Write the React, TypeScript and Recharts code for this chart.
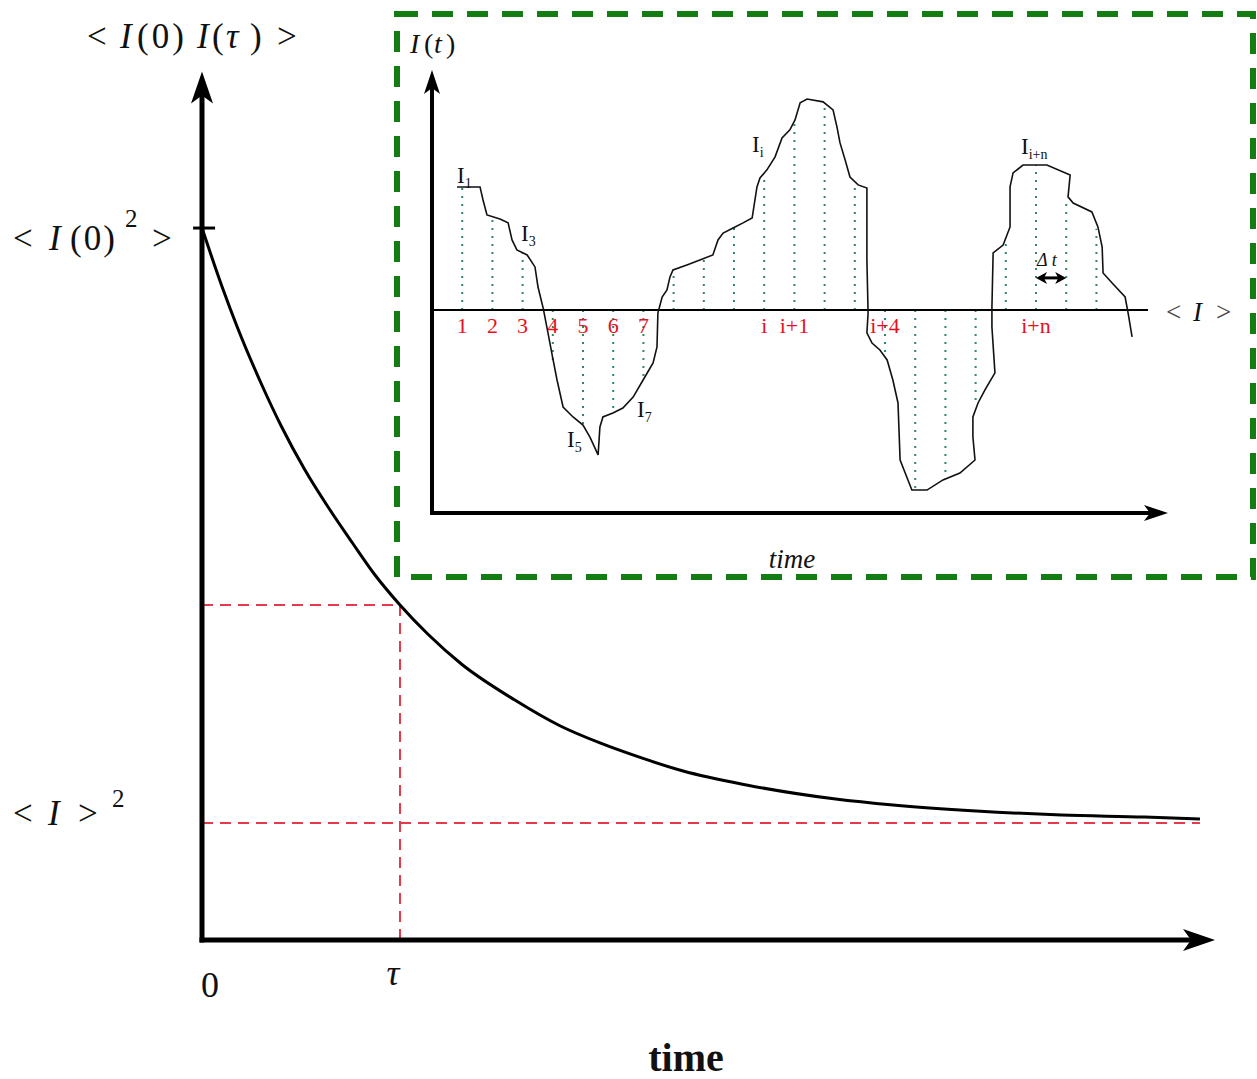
import { ComposedChart, Line, XAxis, YAxis, ReferenceLine, ReferenceDot } from "recharts";

// main plot: correlation <I(0)I(t)> vs lag, time in units of tau, value in units of <I>^2
const corrTime = [0, 0.1, 0.18, 0.3, 0.4, 0.52, 0.64, 0.76, 0.87, 1.0, 1.14, 1.31, 1.58, 1.81, 2.01, 2.22, 2.43, 2.75, 3.2, 3.49, 3.91, 4.34, 4.76, 5.04];
const corrValue = [6.085, 5.59, 5.231, 4.752, 4.393, 4.017, 3.692, 3.393, 3.128, 2.863, 2.615, 2.359, 2.051, 1.829, 1.684, 1.556, 1.444, 1.325, 1.205, 1.154, 1.103, 1.068, 1.051, 1.034];
const TAU = 1;
const CORR_AT_TAU = 2.863;
const CORR_ZERO = 6.085;
const MEAN_SQ = 1;
const MEAN_SQ_END = 5.04;
const X_MAX = 5.116;
const Y_MAX = 7.393;

// inset: intensity trace I(t), time in units of dt
const signalTime = [
  0.83, 1.59, 1.69, 1.82, 2.25, 2.52, 2.65, 2.81, 3.15, 3.41,
  3.51, 3.68, 3.84, 4.01, 4.14, 4.34, 4.67, 5.0, 5.23, 5.5,
  5.56, 5.66, 5.99, 6.32, 6.66, 6.99, 7.32, 7.45, 7.48, 7.62,
  7.78, 7.88, 7.98, 8.44, 8.87, 9.3, 9.47, 9.64, 9.97, 10.3,
  10.6, 10.76, 10.86, 11.09, 11.36, 11.59, 11.85, 12.02, 12.19, 12.42,
  12.95, 13.28, 13.41, 13.51, 13.68, 13.84, 14.11, 14.4, 14.4, 14.44,
  14.4, 14.57, 14.83, 15.07, 15.26, 15.43, 15.5, 15.89, 16.39, 16.92,
  17.48, 17.98, 17.91, 17.91, 18.08, 18.31, 18.64, 18.54, 18.54, 18.58,
  18.91, 19.14, 19.14, 19.24, 19.57, 20.36, 21.13, 21.06, 21.23, 21.85,
  22.05, 22.19, 22.22, 22.52, 22.95, 23.05, 23.18,
];
const signalValue = [
  16.06, 16.06, 15.42, 14.68, 14.48, 14.29, 13.45, 12.96, 12.71, 12.12,
  11.13, 10.1, 8.87, 7.54, 6.55, 5.22, 4.73, 4.33, 3.74, 2.86,
  4.24, 4.73, 4.93, 5.17, 5.71, 6.55, 7.39, 8.18, 9.85, 10.64,
  10.99, 11.63, 11.97, 12.22, 12.46, 12.71, 13.45, 13.79, 14.04, 14.29,
  14.53, 16.06, 16.5, 16.9, 17.54, 18.47, 18.87, 19.36, 20.2, 20.39,
  20.25, 19.85, 19.01, 18.23, 17.39, 16.55, 16.16, 16.01, 12.46, 9.85,
  8.87, 8.37, 8.03, 7.54, 6.55, 5.42, 2.61, 1.13, 1.13, 1.63,
  1.97, 2.61, 3.74, 4.73, 5.42, 6.06, 6.9, 9.16, 10.15, 12.81,
  13.2, 14.09, 16.06, 16.75, 17.14, 17.14, 16.65, 15.57, 15.27, 14.83,
  14.09, 13.1, 11.82, 11.33, 10.64, 9.85, 8.67,
];
const sampleTime = [1, 2, 3, 4, 5, 6, 7, 8, 9, 10, 11, 12, 13, 14, 15, 16, 17, 18, 19, 20, 21, 22];
const sampleValue = [16.06, 14.6, 12.8, 7.54, 4.33, 4.93, 6.55, 12.0, 12.53, 14.06, 16.7, 19.2, 20.2, 16.2, 7.7, 1.13, 1.7, 5.4, 13.4, 17.14, 15.5, 14.0];
const sampleLabel = ["1", "2", "3", "4", "5", "6", "7", "", "", "", "i", "i+1", "", "", "i+4", "", "", "", "", "i+n", "", ""];
const MEAN_I = 10;
const MEAN_END = 23.71;
const DT_FROM = 20;
const DT_TO = 21;
const DT_LEVEL = 11.58;
const T_MAX = 24.37;
const I_MAX = 21.82;

const SERIF = '"Liberation Serif", "DejaVu Serif", serif';
const RED = "#e23b4b";
const GREEN = "#137d13";

const corrData = corrTime.map((t, i) => ({ t, c: corrValue[i] }));
const signalData = signalTime.map((t, i) => ({ t, v: signalValue[i] }));

type HeadOpts = { head: number; half: number; notch: number; both?: boolean };

function headPoints(tx: number, ty: number, ux: number, uy: number, o: HeadOpts) {
  const bx = tx - ux * o.head;
  const by = ty - uy * o.head;
  const nx = tx - ux * (o.head - o.notch);
  const ny = ty - uy * (o.head - o.notch);
  return `${tx},${ty} ${bx - uy * o.half},${by + ux * o.half} ${nx},${ny} ${bx + uy * o.half},${by - ux * o.half}`;
}

function arrowShape(o: HeadOpts) {
  return (p: any) => {
    const { x1, y1, x2, y2, stroke, strokeWidth } = p;
    const len = Math.hypot(x2 - x1, y2 - y1) || 1;
    const ux = (x2 - x1) / len;
    const uy = (y2 - y1) / len;
    const cut = o.head - o.notch;
    const sx = o.both ? x1 + ux * cut : x1;
    const sy = o.both ? y1 + uy * cut : y1;
    return (
      <g>
        <line x1={sx} y1={sy} x2={x2 - ux * cut} y2={y2 - uy * cut} stroke={stroke} strokeWidth={strokeWidth} strokeLinecap="square" />
        <polygon points={headPoints(x2, y2, ux, uy, o)} fill={stroke} />
        {o.both && <polygon points={headPoints(x1, y1, -ux, -uy, o)} fill={stroke} />}
      </g>
    );
  };
}

function MainXTick({ x, y, payload }: any) {
  const isTau = payload.value === TAU;
  return (
    <text
      x={x + (isTau ? -7 : 8)}
      y={y + (isTau ? 37 : 49)}
      textAnchor="middle"
      fontFamily={SERIF}
      fontSize={36}
      fontStyle={isTau ? "italic" : "normal"}
      fill="#111"
    >
      {isTau ? "τ" : "0"}
    </text>
  );
}

function MainYTick({ y, payload }: any) {
  if (payload.value === CORR_ZERO) {
    return (
      <text y={y + 22} fontFamily={SERIF} fontSize={35} fill="#111">
        <tspan x={13}>{"<"}</tspan>
        <tspan x={49} fontStyle="italic">I</tspan>
        <tspan x={70} letterSpacing={2}>(0)</tspan>
        <tspan x={125} dy={-23} fontSize={25}>2</tspan>
        <tspan x={152} dy={23}>{">"}</tspan>
      </text>
    );
  }
  return (
    <text y={y + 2} fontFamily={SERIF} fontSize={35} fill="#111">
      <tspan x={13}>{"<"}</tspan>
      <tspan x={48} fontStyle="italic">I</tspan>
      <tspan x={78}>{">"}</tspan>
      <tspan x={112} dy={-18} fontSize={25}>2</tspan>
    </text>
  );
}

function Sub({ x, y, main, sub }: { x: number; y: number; main: string; sub: string }) {
  return (
    <text x={x} y={y} fontFamily={SERIF} fontSize={23} fill="#111">
      {main}
      <tspan fontSize={14} dy={5}>{sub}</tspan>
    </text>
  );
}

export default function App() {
  return (
    <div style={{ position: "absolute", left: 0, top: 0, width: 1257, height: 1079, background: "#fff" }}>
      <ComposedChart width={1257} height={1079} data={corrData} margin={{ top: 75, right: 42, bottom: 0, left: 0 }}>
        <XAxis
          type="number"
          dataKey="t"
          domain={[0, X_MAX]}
          ticks={[0, TAU]}
          height={139}
          axisLine={false}
          tickLine={false}
          tick={(p: any) => <MainXTick {...p} />}
        />
        <YAxis
          type="number"
          domain={[0, Y_MAX]}
          ticks={[MEAN_SQ, CORR_ZERO]}
          width={202}
          axisLine={false}
          tickLine={false}
          tick={(p: any) => <MainYTick {...p} />}
        />
        <ReferenceLine segment={[{ x: 0, y: CORR_AT_TAU }, { x: TAU, y: CORR_AT_TAU }]} stroke={RED} strokeWidth={2} strokeDasharray="11 7" />
        <ReferenceLine segment={[{ x: TAU, y: 0 }, { x: TAU, y: CORR_AT_TAU }]} stroke={RED} strokeWidth={2} strokeDasharray="11 7" />
        <ReferenceLine segment={[{ x: 0, y: MEAN_SQ }, { x: MEAN_SQ_END, y: MEAN_SQ }]} stroke={RED} strokeWidth={2} strokeDasharray="11 7" />
        <ReferenceLine
          segment={[{ x: -0.045, y: CORR_ZERO }, { x: 0.066, y: CORR_ZERO }]}
          stroke="#000"
          strokeWidth={3}
          ifOverflow="visible"
        />
        <ReferenceLine
          segment={[{ x: 0, y: 0 }, { x: 0, y: Y_MAX + 0.03 }]}
          stroke="#000"
          strokeWidth={5}
          ifOverflow="visible"
          shape={arrowShape({ head: 32, half: 11, notch: 8 })}
        />
        <ReferenceLine
          segment={[{ x: 0, y: 0 }, { x: X_MAX, y: 0 }]}
          stroke="#000"
          strokeWidth={5}
          ifOverflow="visible"
          shape={arrowShape({ head: 32, half: 11, notch: 8 })}
        />
        <Line dataKey="c" type="monotone" stroke="#000" strokeWidth={3} dot={false} isAnimationActive={false} />
      </ComposedChart>

      <div style={{ position: "absolute", left: 397, top: 12 }}>
        <ComposedChart width={856} height={566} data={signalData} margin={{ top: 58, right: 85, bottom: 65, left: 35 }}>
          <XAxis type="number" dataKey="t" domain={[0, T_MAX]} hide />
          <YAxis type="number" domain={[0, I_MAX]} hide />
          {sampleTime.map((t, i) => (
            <ReferenceLine
              key={"s" + t}
              segment={[{ x: t, y: MEAN_I }, { x: t, y: sampleValue[i] }]}
              stroke="#2e8b57"
              strokeWidth={2}
              strokeDasharray="2 6"
            />
          ))}
          <ReferenceLine segment={[{ x: 0, y: MEAN_I }, { x: MEAN_END, y: MEAN_I }]} stroke="#000" strokeWidth={2} />
          <ReferenceLine
            segment={[{ x: 0, y: 0 }, { x: 0, y: I_MAX }]}
            stroke="#000"
            strokeWidth={4}
            ifOverflow="visible"
            shape={arrowShape({ head: 24, half: 8, notch: 6 })}
          />
          <ReferenceLine
            segment={[{ x: 0, y: 0 }, { x: T_MAX, y: 0 }]}
            stroke="#000"
            strokeWidth={4}
            ifOverflow="visible"
            shape={arrowShape({ head: 24, half: 8, notch: 6 })}
          />
          <ReferenceLine
            segment={[{ x: DT_FROM, y: DT_LEVEL }, { x: DT_TO, y: DT_LEVEL }]}
            stroke="#000"
            strokeWidth={3}
            shape={arrowShape({ head: 11, half: 6, notch: 3, both: true })}
          />
          {sampleTime.map((t, i) =>
            sampleLabel[i] ? (
              <ReferenceDot
                key={"l" + t}
                x={t}
                y={MEAN_I}
                r={0}
                fill="none"
                stroke="none"
                label={{ value: sampleLabel[i], position: "bottom", offset: 7, fill: "#e8101e", fontSize: 22, fontFamily: SERIF }}
              />
            ) : null
          )}
          <Line dataKey="v" type="linear" stroke="#111" strokeWidth={1.6} dot={false} isAnimationActive={false} />
        </ComposedChart>
      </div>

      <svg width={1257} height={1079} style={{ position: "absolute", left: 0, top: 0, pointerEvents: "none" }}>
        <rect x={397} y={14} width={856} height={563} fill="none" stroke={GREEN} strokeWidth={6} strokeDasharray="21 14" />

        <text y={48} fontFamily={SERIF} fontSize={35} fill="#111">
          <tspan x={87}>{"<"}</tspan>
          <tspan x={120} fontStyle="italic">I</tspan>
          <tspan x={137} letterSpacing={3}>(0)</tspan>
          <tspan x={197} fontStyle="italic">I</tspan>
          <tspan x={212}>(</tspan>
          <tspan x={226} fontStyle="italic">τ</tspan>
          <tspan x={250}>)</tspan>
          <tspan x={277}>{">"}</tspan>
        </text>
        <text x={686} y={1071} textAnchor="middle" fontFamily={SERIF} fontSize={40} fontWeight="bold" fill="#111">
          time
        </text>

        <text y={53} fontFamily={SERIF} fontSize={28} fill="#111">
          <tspan x={410} fontStyle="italic">I</tspan>
          <tspan x={424}>(</tspan>
          <tspan x={434} fontStyle="italic">t</tspan>
          <tspan x={446}>)</tspan>
        </text>
        <text x={792} y={568} textAnchor="middle" fontFamily={SERIF} fontSize={27} fontStyle="italic" fill="#111">
          time
        </text>
        <text y={321} fontFamily={SERIF} fontSize={27} fill="#444">
          <tspan x={1166}>{"<"}</tspan>
          <tspan x={1193} fontStyle="italic" fill="#111">I</tspan>
          <tspan x={1216}>{">"}</tspan>
        </text>

        <Sub x={457} y={183} main="I" sub="1" />
        <Sub x={521} y={241} main="I" sub="3" />
        <Sub x={567} y={447} main="I" sub="5" />
        <Sub x={637} y={417} main="I" sub="7" />
        <Sub x={752} y={152} main="I" sub="i" />
        <Sub x={1021} y={154} main="I" sub="i+n" />
        <text x={1037} y={266} fontFamily={SERIF} fontSize={18} fontStyle="italic" fill="#111">
          Δ t
        </text>
      </svg>
    </div>
  );
}
